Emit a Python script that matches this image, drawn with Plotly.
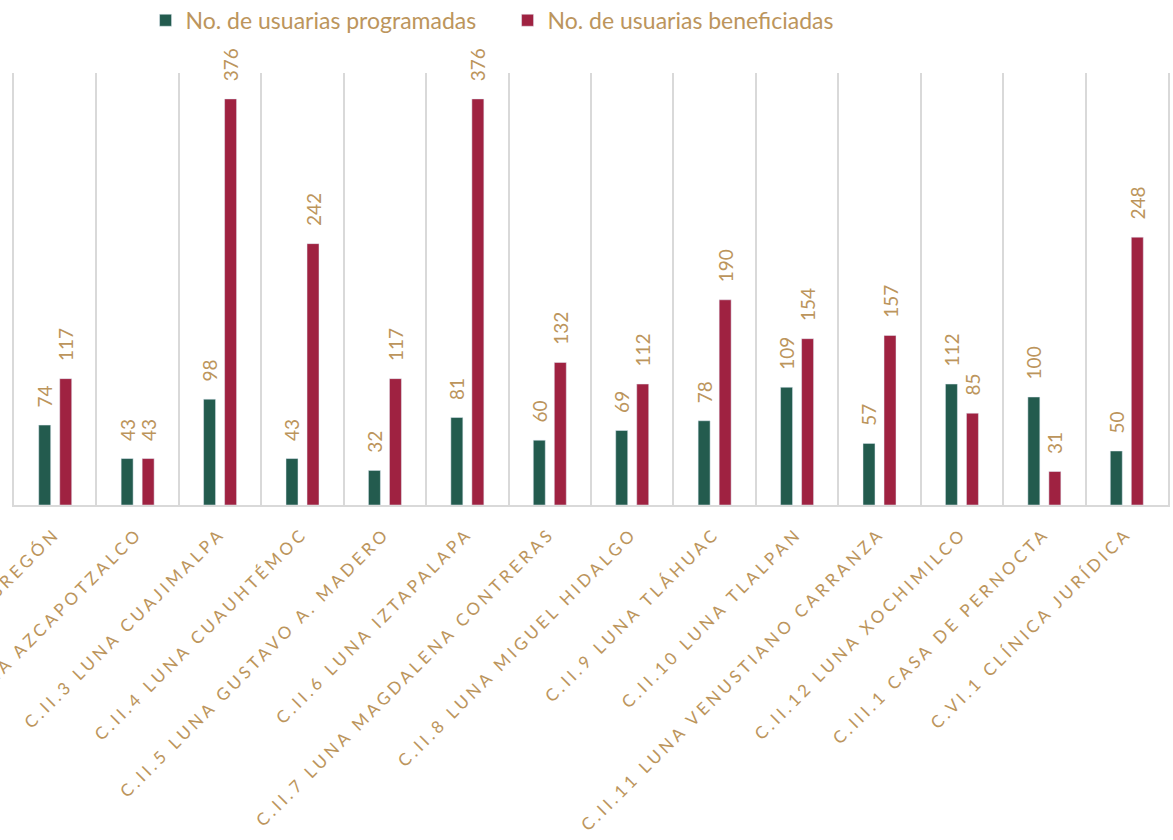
import plotly.graph_objects as go

categories = [
    "C.II.1 LUNA ÁLVARO OBREGÓN",
    "C.II.2 LUNA AZCAPOTZALCO",
    "C.II.3 LUNA CUAJIMALPA",
    "C.II.4 LUNA CUAUHTÉMOC",
    "C.II.5 LUNA GUSTAVO A. MADERO",
    "C.II.6 LUNA IZTAPALAPA",
    "C.II.7 LUNA MAGDALENA CONTRERAS",
    "C.II.8 LUNA MIGUEL HIDALGO",
    "C.II.9 LUNA TLÁHUAC",
    "C.II.10 LUNA TLALPAN",
    "C.II.11 LUNA VENUSTIANO CARRANZA",
    "C.II.12 LUNA XOCHIMILCO",
    "C.III.1 CASA DE PERNOCTA",
    "C.VI.1 CLÍNICA JURÍDICA",
]
programadas = [74, 43, 98, 43, 32, 81, 60, 69, 78, 109, 57, 112, 100, 50]
beneficiadas = [117, 43, 376, 242, 117, 376, 132, 112, 190, 154, 157, 85, 31, 248]

GREEN = "#235B4E"
RED = "#9F2241"
TAN = "#BC955C"
GRID = "#D9D9D9"

label_font = dict(color=TAN, size=19, family="Lato")

fig = go.Figure()
fig.add_trace(go.Bar(
    x=categories, y=programadas, name="No. de usuarias programadas",
    marker_color=GREEN, text=programadas, texttemplate="   %{y}",
    textposition="outside", textangle=-90, cliponaxis=False,
    constraintext="none", textfont=label_font,
))
fig.add_trace(go.Bar(
    x=categories, y=beneficiadas, name="No. de usuarias beneficiadas",
    marker_color=RED, text=beneficiadas, texttemplate="   %{y}",
    textposition="outside", textangle=-90, cliponaxis=False,
    constraintext="none", textfont=label_font,
))

fig.update_layout(
    width=1173, height=840,
    margin=dict(l=14, r=5, t=73, b=335, autoexpand=False),
    plot_bgcolor="white", paper_bgcolor="white",
    barmode="group", bargap=0.49, bargroupgap=0.43,
    showlegend=True,
    legend=dict(
        orientation="h", x=0.114, xanchor="left", y=1.122, yanchor="middle",
        font=dict(color=TAN, size=23, family="Lato"),
        traceorder="normal", itemwidth=30, entrywidth=317,
    ),
    font=dict(family="Lato", color=TAN),
)
fig.update_xaxes(
    tickson="boundaries", showgrid=True, gridcolor=GRID, gridwidth=1.5,
    showline=True, linecolor=GRID, linewidth=2, ticks="",
    tickangle=-45, ticklabelstandoff=10,
    tickfont=dict(color=TAN, size=17, family="Lato"),
    automargin=False,
)
fig.update_yaxes(
    range=[0, 400], showgrid=False, zeroline=False, showticklabels=False,
    ticks="", showline=True, mirror=True, linecolor=GRID, linewidth=1.5,
)

post = """
document.body.style.margin = '0';
document.body.style.overflow = 'hidden';
var gd = document.getElementsByClassName('plotly-graph-div')[0];
function spaceTicks(){
  gd.querySelectorAll('.xtick text').forEach(function(t){
    t.style.letterSpacing = '3.6px';
  });
}
spaceTicks();
gd.on('plotly_afterplot', spaceTicks);
"""
fig.write_html("out.html", post_script=post, config={"displayModeBar": False})
